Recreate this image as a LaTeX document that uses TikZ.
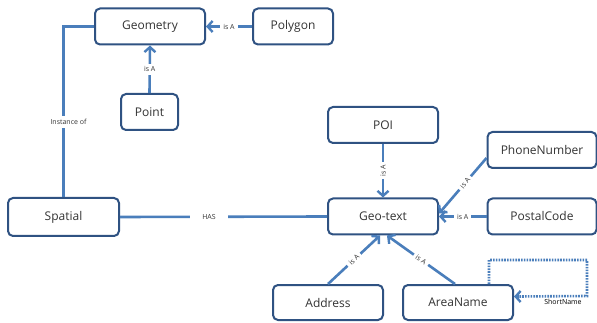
\documentclass[tikz,border=0pt]{standalone}
\usepackage{fontspec}
\setmainfont{Open Sans}
\usetikzlibrary{arrows.meta}
\definecolor{boxc}{HTML}{2F5282}
\definecolor{linec}{HTML}{4A7EBB}
\definecolor{txt}{HTML}{333333}
\begin{document}
\begin{tikzpicture}[x=1pt,y=1pt,
  box/.style={draw=boxc,line width=2pt,rounded corners=5pt,fill=white,text=txt,
    minimum width=110pt,minimum height=36pt,font=\fontsize{12}{14}\selectfont,inner sep=0pt},
  conn/.style={draw=linec,line width=2.6pt},
  tip/.style={-{Straight Barb[length=5pt,width=11pt,line width=2.4pt]}},
  arr/.style={conn,tip},
  lbl/.style={fill=white,text=txt,font=\fontsize{7}{8}\selectfont,inner sep=3pt},
  dotc/.style={draw=linec,line width=2.6pt,dash pattern=on 1.6pt off 1.2pt}]
\useasboundingbox (0,0) rectangle (597,-323);
\node[box] (geo) at (150,-26.5) {Geometry};
\node[box,minimum width=80pt] (poly) at (293,-26.5) {Polygon};
\node[box,minimum width=57pt] (point) at (149.5,-112) {Point};
\node[box,minimum width=111pt,minimum height=38pt] (spat) at (63.5,-217) {Spatial};
\node[box] (poi) at (383,-125) {POI};
\node[box,minimum width=109pt] (phone) at (542,-150) {PhoneNumber};
\node[box] (gt) at (383,-216.5) {Geo-text};
\node[box,minimum width=109pt] (postal) at (542,-216.5) {PostalCode};
\node[box,minimum height=35pt] (addr) at (328,-302.5) {Address};
\node[box,minimum height=35pt] (area) at (458,-302.5) {AreaName};
% connectors
\draw[arr] (poly.west) -- node[lbl] {is A} (geo.east);
\draw[arr] (point.north) -- node[lbl] {is A} (geo.south);
\draw[conn] (geo.west) -| node[lbl,pos=0.78,xshift=5pt] {Instance of} (spat.north);
\draw[conn] (spat.east) -- node[lbl,pos=0.43,inner xsep=12pt] {HAS} (gt.west);
\draw[arr] (poi.south) -- node[lbl,rotate=90] {is A} (gt.north);
\coordinate (ph1) at ([yshift=-8pt]phone.west);
\coordinate (gt1) at ([yshift=3pt]gt.east);
\draw[arr] (ph1) -- node[lbl,rotate=52,pos=0.45] {is A} (gt1);
\draw[arr] (postal.west) -- node[lbl] {is A} (gt.east);
\coordinate (gt2) at ([xshift=-3pt]gt.south);
\coordinate (gt3) at ([xshift=4pt]gt.south);
\coordinate (ar1) at ([xshift=-3pt]area.north);
\draw[arr] (addr.north) -- node[lbl,rotate=44,pos=0.5] {is A} (gt2);
\draw[arr] (ar1) -- node[lbl,rotate=-36,pos=0.5] {is A} (gt3);
\coordinate (lp1) at ([xshift=-25pt]area.north east);
\coordinate (lp2) at ([yshift=6pt]area.east);
\draw[dotc] (lp1) -- ++(0,24) -| (587,-296) -- ([xshift=3pt]lp2);
\draw[conn,tip] ([xshift=5pt]lp2) -- (lp2);
\node[text=black,font=\fontsize{7}{8}\selectfont,inner sep=0pt] (sn) at (563,-302) {ShortName};
\end{tikzpicture}
\end{document}
